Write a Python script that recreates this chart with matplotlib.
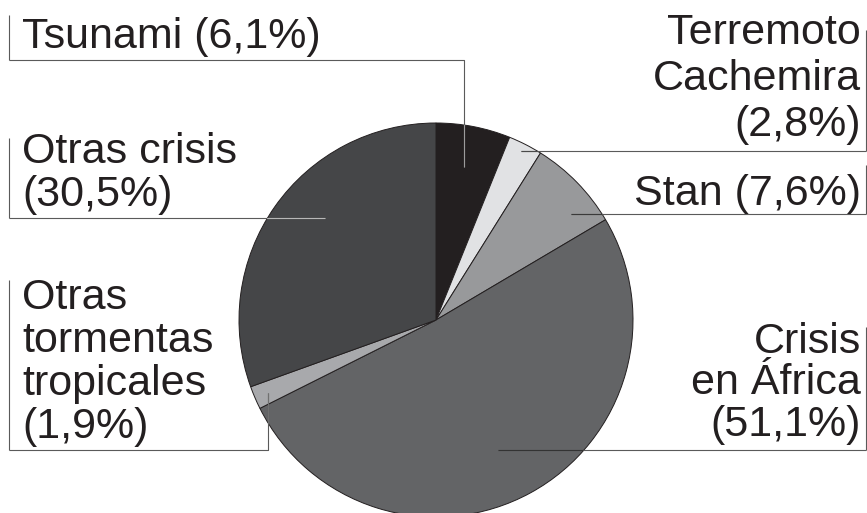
import matplotlib
matplotlib.use("Agg")
import matplotlib.pyplot as plt
from matplotlib.patches import Circle

plt.rcParams['font.family'] = ['Liberation Sans', 'DejaVu Sans']

# Share of funds by emergency
categories = ["Tsunami", "Terremoto Cachemira", "Stan", "Crisis en África",
              "Otras tormentas tropicales", "Otras crisis"]
values = [6.1, 2.8, 7.6, 51.1, 1.9, 30.5]
slice_colors = ["#231f20", "#e1e2e4", "#98999b", "#636466", "#a8a9ac", "#454648"]

# Label text, split into lines
label_lines = [
    ["Tsunami (6,1%)"],
    ["Terremoto", "Cachemira", "(2,8%)"],
    ["Stan (7,6%)"],
    ["Crisis", "en África", "(51,1%)"],
    ["Otras", "tormentas", "tropicales", "(1,9%)"],
    ["Otras crisis", "(30,5%)"],
]

W, H = 867, 513
fig = plt.figure(figsize=(W / 100, H / 100), dpi=100)
ax = fig.add_axes([0, 0, 1, 1])


def Y(y):
    """Convert a top-down pixel row to the axes' bottom-up coordinate."""
    return H - y


cx, cy, r = 436, 320, 197
wedges, _ = ax.pie(values, colors=slice_colors, startangle=90, counterclock=False,
                   center=(cx, Y(cy)), radius=r,
                   wedgeprops=dict(edgecolor="#231f20", linewidth=0.7))

ax.set_xlim(0, W)
ax.set_ylim(0, H)
ax.set_aspect("auto")
ax.axis("off")

# Layout: text anchor x, alignment, baselines, bracket bar, leader path, inner line colour
layout = [
    dict(x=22, ha="left", base=[48],
         bar=[(9, 15), (9, 60)], path=[(9, 60), (464, 60), (464, 167)], inner="#9c9c9c"),
    dict(x=861, ha="right", base=[44, 90, 136],
         bar=[(866, 30), (866, 151)], path=[(866, 151), (521, 151)], inner="#4a4a4a"),
    dict(x=861, ha="right", base=[205],
         bar=[(866, 165), (866, 214)], path=[(866, 214), (571, 214)], inner="#3a3a3a"),
    dict(x=861, ha="right", base=[353, 394, 436],
         bar=[(866, 327), (866, 450)], path=[(866, 450), (498, 450)], inner="#333333"),
    dict(x=22, ha="left", base=[309, 352, 395, 438],
         bar=[(9, 280), (9, 450)], path=[(9, 450), (268, 450), (268, 393)], inner="#707070"),
    dict(x=22, ha="left", base=[163, 206],
         bar=[(9, 138), (9, 218)], path=[(9, 218), (325, 218)], inner="#b8b8b8"),
]

outer_col = "#5a5a5a"
lw = 0.8
for lines, lay in zip(label_lines, layout):
    for txt, b in zip(lines, lay["base"]):
        ax.text(lay["x"], Y(b), txt, ha=lay["ha"], va="baseline",
                fontsize=31, color="#231f20")
    bx, by = zip(*lay["bar"])
    ax.plot(bx, [Y(v) for v in by], color=outer_col, lw=lw, solid_capstyle="butt")
    px, py = zip(*lay["path"])
    ax.plot(px, [Y(v) for v in py], color=outer_col, lw=lw, solid_capstyle="butt")
    # the part of the leader lying on the pie is redrawn in a contrasting grey
    clip = Circle((cx, Y(cy)), r, transform=ax.transData)
    inner_line, = ax.plot(px, [Y(v) for v in py], color=lay["inner"], lw=lw,
                          solid_capstyle="butt")
    inner_line.set_clip_path(clip)

fig.savefig("out.png", dpi=100)
